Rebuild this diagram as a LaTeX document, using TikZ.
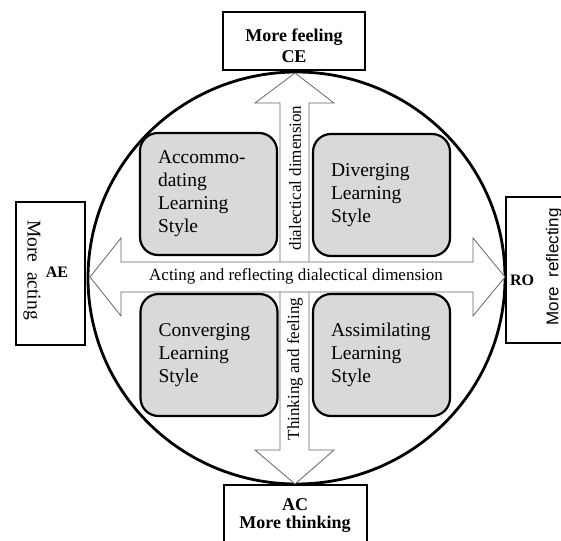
\documentclass[tikz,border=0pt]{standalone}
\usepackage{fontspec}
\setmainfont{Liberation Serif}
\newfontfamily\sansf{Liberation Sans}
\usetikzlibrary{shapes.geometric}
\definecolor{quadfill}{HTML}{D9D9D9}
\definecolor{arrline}{HTML}{666666}
\begin{document}
\begin{tikzpicture}[x=1pt,y=-1pt,
  quad/.style={draw, line width=2.2pt, fill=quadfill, rounded corners=18pt,
    minimum width=137pt, minimum height=122pt, text width=101pt, inner xsep=18pt,
    align=left, font=\fontsize{19.5}{23}\selectfont},
  outerbox/.style={draw, line width=1.3pt, fill=white, inner sep=0pt},
  bigarrow/.style={draw=arrline, line width=0.8pt, fill=white},
  arrlabel/.style={font=\fontsize{17}{20}\selectfont, inner sep=0pt},
  polelabel/.style={font=\bfseries\fontsize{18}{20}\selectfont, inner sep=0pt},
  sidelabel/.style={font=\bfseries\fontsize{16}{18}\selectfont, inner sep=0pt}]
\useasboundingbox (0,0) rectangle (561,540);
\clip (0,0) rectangle (561,540);
% circle
\node (ring) [draw, ellipse, line width=2.8pt, minimum width=417pt, minimum height=412pt, inner sep=0pt] at (296.5,278) {};
% outer boxes
\node (topbox) [outerbox, minimum width=142pt, minimum height=58pt] at (294,41) {};
\node (botbox) [outerbox, minimum width=143pt, minimum height=75pt] at (295.5,522.5) {};
\node (leftbox) [outerbox, minimum width=69pt, minimum height=143pt] at (50.5,273.5) {};
\node (rightbox) [outerbox, minimum width=74pt, minimum height=146pt] at (543,270) {};
% arrows
\path[bigarrow] (295,73) -- (334,103) -- (309,103) -- (309,450) -- (334,450) -- (295,484)
  -- (255,450) -- (280,450) -- (280,103) -- (255,103) -- cycle;
\path[bigarrow] (90,277) -- (121,238) -- (121,262) -- (473,262) -- (473,238) -- (505,277)
  -- (473,316) -- (473,292) -- (121,292) -- (121,316) -- cycle;
% quadrant boxes
\node (accom) [quad] at (208.5,194) {Accommo-\\dating\\Learning\\Style};
\node (diver) [quad] at (381.5,195) {Diverging\\Learning\\Style};
\node (conv) [quad] at (209,355) {Converging\\Learning\\Style};
\node (assim) [quad] at (381.5,355) {Assimilating\\Learning\\Style};
% arrow labels
\node (hlab) [arrlabel] at (296,276) {Acting and reflecting dialectical dimension};
\node (vlab1) [arrlabel, rotate=90] at (295,178) {dialectical dimension};
\node (vlab2) [arrlabel, rotate=90] at (295,369) {Thinking and feeling};
% pole labels
\node (feel) [polelabel] at (294,37) {More feeling};
\node (ce) [polelabel] at (294,57) {CE};
\node (ac) [polelabel] at (295,505) {AC};
\node (think) [polelabel] at (295,524) {More thinking};
\node (acting) [font=\fontsize{19.5}{22}\selectfont, rotate=-90, inner sep=0pt] at (32,270) {More\ \ acting};
\node (ae) [sidelabel] at (57,272) {AE};
\node (reflect) [font=\sansf\fontsize{17}{20}\selectfont, rotate=90, inner sep=0pt] at (554,267) {More\ \ reflecting};
\node (ro) [sidelabel] at (522,280) {RO};
\end{tikzpicture}
\end{document}
